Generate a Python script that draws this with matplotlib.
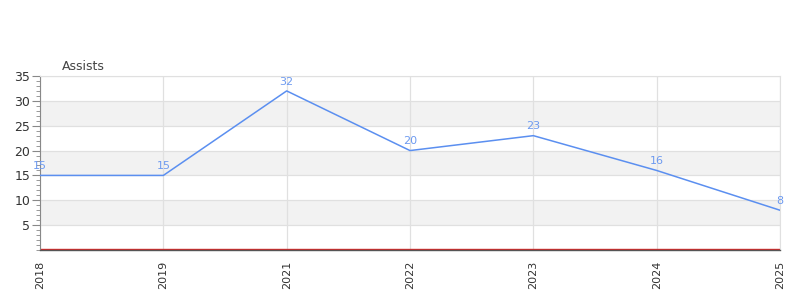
import matplotlib
matplotlib.use("Agg")
import matplotlib.pyplot as plt
from matplotlib.ticker import MultipleLocator

years = ["2018", "2019", "2021", "2022", "2023", "2024", "2025"]
assists = [15, 15, 32, 20, 23, 16, 8]

fig = plt.figure(figsize=(8, 3), dpi=100)
ax = fig.add_axes([0.05, 1 - 250 / 300, 0.925, 174 / 300])

x = list(range(len(years)))
ax.set_xlim(0, len(years) - 1)
ax.set_ylim(0, 35)

for lo in (5, 15, 25):
    ax.axhspan(lo, lo + 5, color="#f2f2f2", zorder=0, lw=0)
for y in range(5, 40, 5):
    ax.axhline(y, color="#e0e0e0", lw=0.9, zorder=1)
for xi in x:
    ax.axvline(xi, color="#e0e0e0", lw=0.9, zorder=1)

ax.plot(x, assists, color="#5b8ff0", lw=1.1, zorder=3)
for xi, v in zip(x, assists):
    ax.annotate(str(v), (xi, v), xytext=(0, 3), textcoords="offset points",
                color="#6d9af0", fontsize=8, ha="center", va="bottom", zorder=4)

ax.axhline(0.15, color="#d62728", lw=1.0, zorder=2)

ax.set_xticks(x)
ax.set_xticklabels(years, rotation=90, fontsize=8, color="#333333")
ax.tick_params(axis="x", length=0, pad=8)
ax.yaxis.set_major_locator(MultipleLocator(5))
ax.yaxis.set_minor_locator(MultipleLocator(1))
ax.set_yticks([5, 10, 15, 20, 25, 30, 35])
ax.tick_params(axis="y", which="major", length=6, color="#888888", labelsize=9, labelcolor="#333333", pad=1)
ax.tick_params(axis="y", which="minor", length=3, color="#888888")

for s in ("top", "right"):
    ax.spines[s].set_color("#e0e0e0")
ax.spines["left"].set_color("#888888")
ax.spines["bottom"].set_color("#555555")
ax.spines["bottom"].set_linewidth(1.0)

fig.text(62 / 800, 1 - 66 / 300, "Assists", fontsize=9, color="#444444", va="center", ha="left")

fig.savefig("out.png", dpi=100)
